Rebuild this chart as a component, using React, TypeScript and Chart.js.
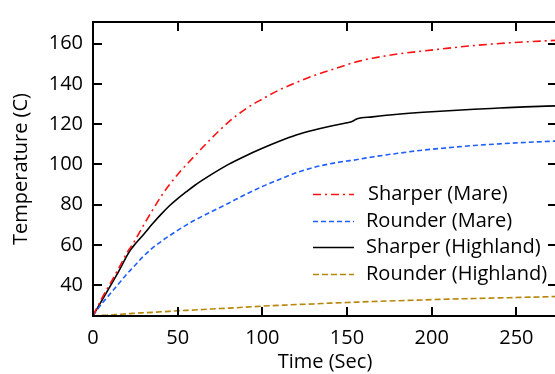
import React, { useEffect, useRef } from "react";
import { Chart, registerables } from "chart.js";

Chart.register(...registerables);

const timeSec = [0, 5, 10, 15, 20, 22, 25, 30, 35, 40, 45, 50, 55, 60, 70, 80, 90, 100, 110, 120, 130, 140, 150, 153, 156, 165, 180, 195, 210, 225, 240, 255, 274];

const sharperMare = [24.8, 33, 40.5, 48, 56, 58.5, 62.5, 70, 77, 83.8, 89.7, 95, 99.7, 104.2, 113, 121, 127.5, 132.5, 137, 140.7, 144, 146.8, 149.6, 150.4, 151.1, 152.8, 154.9, 156.4, 157.8, 159.1, 160.1, 160.9, 161.7];

const rounderMare = [24.8, 30.5, 35.5, 40.5, 45.5, 47.3, 50, 54.5, 58.3, 61.5, 64.4, 67.2, 69.8, 72.2, 76.5, 80.7, 85, 89, 92.5, 95.8, 98.4, 100.3, 101.7, 102, 102.4, 103.7, 105.5, 107.1, 108.3, 109.4, 110.2, 110.9, 111.6];

const sharperHighland = [24.8, 32, 39.2, 46.5, 54.5, 57.3, 60.5, 65.3, 70.3, 75, 79.3, 83, 86.3, 89.5, 95, 100, 104.2, 108, 111.5, 114.6, 117, 119, 120.7, 121.3, 122.7, 123.6, 124.9, 125.9, 126.7, 127.4, 128, 128.6, 129.1];

const rounderHighland = [24.6, 24.9, 25.1, 25.4, 25.7, 25.8, 26, 26.2, 26.4, 26.7, 26.9, 27.2, 27.4, 27.6, 28.1, 28.5, 29, 29.5, 29.9, 30.3, 30.6, 31, 31.3, 31.4, 31.5, 31.8, 32.2, 32.6, 33, 33.3, 33.6, 33.9, 34.3];

const seriesLabels = ["Sharper (Mare)", "Rounder (Mare)", "Sharper (Highland)", "Rounder (Highland)"];
const xTickValues = [0, 50, 100, 150, 200, 250];
const yTickValues = [40, 60, 80, 100, 120, 140, 160];
const xTitle = "Time (Sec)";
const yTitle = "Temperature (C)";

const FONT = "'Open Sans', sans-serif";
const FS = 20;

const toPoints = (ys: number[]) => ys.map((y, i) => ({ x: timeSec[i], y }));

const frameTicksPlugin = {
  id: "frameTicks",
  afterDatasetsDraw(chart: any) {
    const { ctx, chartArea, scales } = chart;
    const { left, right, top, bottom } = chartArea;
    const len = 9;
    ctx.save();
    ctx.strokeStyle = "#000";
    ctx.lineWidth = 2;
    ctx.setLineDash([]);
    ctx.strokeRect(left, top, right - left, bottom - top);
    ctx.beginPath();
    for (const t of scales.x.ticks) {
      const px = Math.round(scales.x.getPixelForValue(t.value));
      ctx.moveTo(px, bottom);
      ctx.lineTo(px, bottom - len);
      ctx.moveTo(px, top);
      ctx.lineTo(px, top + len);
    }
    for (const t of scales.y.ticks) {
      const py = Math.round(scales.y.getPixelForValue(t.value));
      ctx.moveTo(left, py);
      ctx.lineTo(left + len, py);
      ctx.moveTo(right, py);
      ctx.lineTo(right - len, py);
    }
    ctx.stroke();
    ctx.restore();
  },
};

const legendPlugin = {
  id: "innerLegend",
  afterDraw(chart: any) {
    const { ctx } = chart;
    const x0 = 313;
    const x1 = 354;
    const tx = 366;
    const y0 = 194;
    const dy = 26.7;
    ctx.save();
    chart.data.datasets.forEach((ds: any, i: number) => {
      const y = Math.round(y0 + i * dy) + 0.5;
      ctx.strokeStyle = ds.borderColor;
      ctx.lineWidth = ds.borderWidth;
      ctx.setLineDash(ds.borderDash || []);
      ctx.beginPath();
      ctx.moveTo(x0, y);
      ctx.lineTo(x1, y);
      ctx.stroke();
      ctx.setLineDash([]);
      ctx.fillStyle = "#000";
      ctx.font = `${FS}px ${FONT}`;
      ctx.textBaseline = "middle";
      ctx.textAlign = "left";
      ctx.fillText(ds.label, i === 0 ? tx + 2 : tx, y);
    });
    ctx.restore();
  },
};

export default function App() {
  const canvasRef = useRef<HTMLCanvasElement | null>(null);

  useEffect(() => {
    const canvas = canvasRef.current;
    if (!canvas) return;
    const chart = new Chart(canvas, {
      type: "line",
      data: {
        datasets: [
          {
            label: seriesLabels[0],
            data: toPoints(sharperMare),
            borderColor: "#ff1010",
            borderWidth: 1.6,
            borderDash: [8, 4, 2, 4],
            pointRadius: 0,
            fill: false,
            cubicInterpolationMode: "monotone",
          },
          {
            label: seriesLabels[1],
            data: toPoints(rounderMare),
            borderColor: "#1f5fff",
            borderWidth: 1.6,
            borderDash: [5, 3],
            pointRadius: 0,
            fill: false,
            cubicInterpolationMode: "monotone",
          },
          {
            label: seriesLabels[2],
            data: toPoints(sharperHighland),
            borderColor: "#000000",
            borderWidth: 1.6,
            pointRadius: 0,
            fill: false,
            cubicInterpolationMode: "monotone",
          },
          {
            label: seriesLabels[3],
            data: toPoints(rounderHighland),
            borderColor: "#b8860b",
            borderWidth: 1.6,
            borderDash: [6, 3],
            pointRadius: 0,
            fill: false,
            cubicInterpolationMode: "monotone",
          },
        ],
      },
      options: {
        responsive: false,
        animation: false,
        devicePixelRatio: 1,
        layout: { padding: { top: 10, right: 3, left: 0, bottom: 0 } },
        plugins: {
          legend: { display: false },
          tooltip: { enabled: false },
        },
        scales: {
          x: {
            type: "linear",
            min: 0,
            max: 274,
            afterBuildTicks: (s: any) => {
              s.ticks = xTickValues.map((v) => ({ value: v }));
            },
            afterFit: (s: any) => {
              s.height = 58;
            },
            grid: { display: false, drawTicks: false },
            border: { display: false },
            ticks: {
              color: "#000",
              padding: 10,
              maxRotation: 0,
              font: { family: FONT, size: FS },
            },
            title: {
              display: true,
              text: xTitle,
              color: "#000",
              font: { family: FONT, size: FS },
              padding: { top: 0, bottom: 0 },
            },
          },
          y: {
            type: "linear",
            min: 24.6,
            max: 170.8,
            afterBuildTicks: (s: any) => {
              s.ticks = yTickValues.map((v) => ({ value: v }));
            },
            afterFit: (s: any) => {
              s.width = 93;
            },
            grid: { display: false, drawTicks: false },
            border: { display: false },
            ticks: {
              color: "#000",
              padding: 10,
              font: { family: FONT, size: FS },
            },
            title: {
              display: true,
              text: yTitle,
              color: "#000",
              font: { family: FONT, size: FS },
              padding: { top: 9, bottom: 0 },
            },
          },
        },
      },
      plugins: [frameTicksPlugin, legendPlugin],
    });
    return () => chart.destroy();
  }, []);

  return (
    <div style={{ position: "fixed", left: 0, top: 0, width: 560, height: 374, background: "#fff" }}>
      <canvas ref={canvasRef} width={560} height={374} style={{ display: "block" }} />
    </div>
  );
}
